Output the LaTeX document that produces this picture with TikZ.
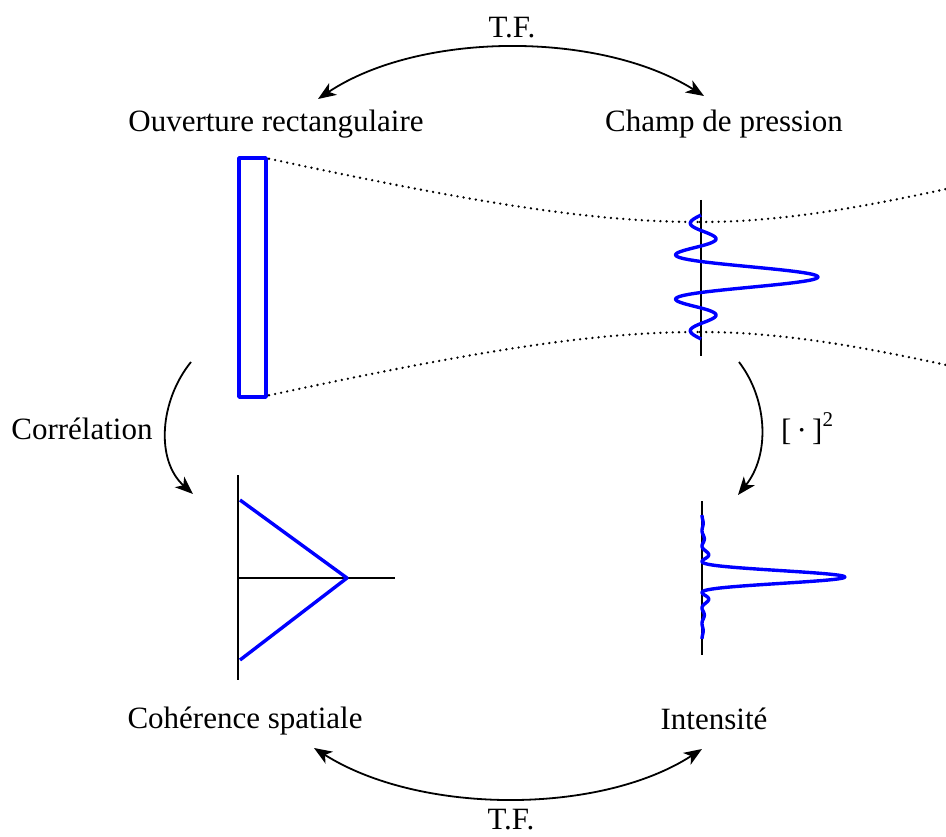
\documentclass[tikz,border=0pt]{standalone}
\usepackage{fontspec}
\setmainfont{Liberation Serif}
\usetikzlibrary{arrows.meta}
\begin{document}
\begin{tikzpicture}[x=1pt,y=-1pt,
  lbl/.style={font=\fontsize{31}{36}\selectfont, inner sep=0pt, anchor=base},
  axisline/.style={line width=2.8pt, black},
  bluecurve/.style={line width=3.4pt, blue, line join=round},
  beam/.style={line width=2.6pt, line cap=round, dash pattern=on 0pt off 6.2pt},
  tip/.tip={Stealth[length=18pt,width=14pt,inset=5pt]},
  arr/.style={line width=1.8pt, -tip},
  darr/.style={line width=1.8pt, tip-tip}]
\useasboundingbox (0,0) rectangle (946,837);

% labels
\node[lbl] (tftop) at (512,38) {T.F.};
\node[lbl] (ouv) at (276,132) {Ouverture rectangulaire};
\node[lbl] (champ) at (724,132) {Champ de pression};
\node[lbl] (corr) at (82,439) {Corrélation};
\node[lbl, anchor=base west] (sq) at (781,440) {[\,·\,]\raisebox{0.42em}{\fontsize{21}{21}\selectfont 2}};
\node[lbl] (coh) at (245,728) {Cohérence spatiale};
\node[lbl] (int) at (714,729) {Intensité};
\node[lbl] (tfbot) at (511,829) {T.F.};

% aperture
\draw[bluecurve] (239,158) rectangle (266,397);
\coordinate (rtr) at (267,158);
\coordinate (rbr) at (267,397);

% beam envelope (dotted)
\draw[beam] plot[domain=269:700, samples=70] (\x, {277 - sqrt(3025 + (0.243*(\x-700))^2)});
\draw[beam] plot[domain=700:946, samples=40] (\x, {277 - sqrt(3025 + (0.279*(\x-700))^2)});
\draw[beam] plot[domain=269:700, samples=70] (\x, {277 + sqrt(3025 + (0.243*(\x-700))^2)});
\draw[beam] plot[domain=700:946, samples=40] (\x, {277 + sqrt(3025 + (0.279*(\x-700))^2)});

% pressure field
\draw[axisline] (701,200) -- (701,356);
\draw[bluecurve] plot[domain=-62:62, samples=200, smooth]
  ({701 + 117*sin(\x*pi/15.5 r)/(\x*pi/15.5)}, {277+\x});

% intensity
\draw[axisline] (702,501) -- (702,655);
\draw[bluecurve] plot[domain=-62:62, samples=200, smooth]
  ({702 + 143*(sin(\x*pi/15.5 r)/(\x*pi/15.5))^2}, {577+\x});

% spatial coherence
\draw[axisline] (238,475) -- (238,680);
\draw[axisline] (238,578) -- (395,578);
\draw[bluecurve] (240,500) -- (347,578) -- (240,660);

% arrows
\coordinate (a1s) at (318,99);
\coordinate (a1e) at (704,96);
\draw[darr] (a1s) .. controls (420,31) and (600,31) .. (a1e);

\coordinate (a2s) at (314,748);
\coordinate (a2e) at (702,749);
\draw[darr] (a2s) .. controls (420,815) and (600,815) .. (a2e);

\coordinate (a3s) at (191,362);
\coordinate (a3e) at (193,494);
\draw[arr] (a3s) .. controls (160,400) and (155,460) .. (a3e);

\coordinate (a4s) at (739,362);
\coordinate (a4e) at (738,495);
\draw[arr] (a4s) .. controls (768,400) and (770,455) .. (a4e);
\end{tikzpicture}
\end{document}
